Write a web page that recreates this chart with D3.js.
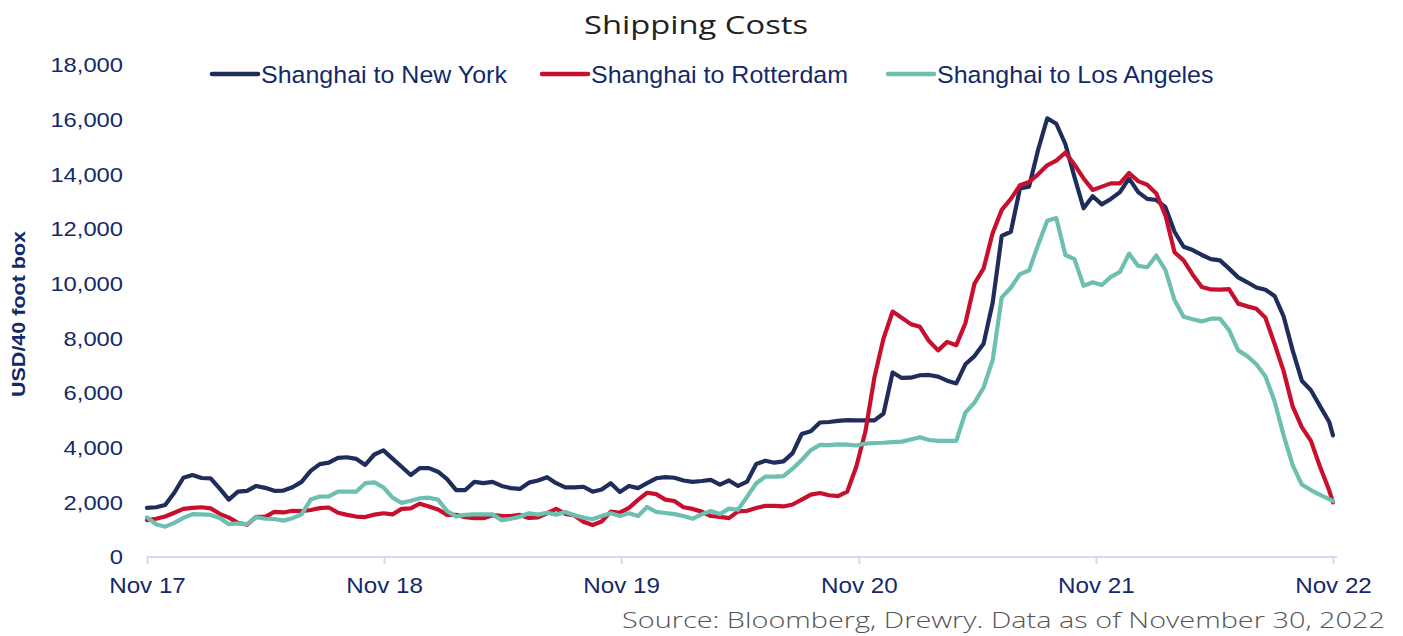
<!DOCTYPE html>
<html>
<head>
<meta charset="utf-8">
<script src="https://cdn.jsdelivr.net/npm/d3@7"></script>
<style>
  html, body { margin: 0; padding: 0; background: #ffffff; }
  svg { display: block; }
</style>
</head>
<body>
<svg id="chart" width="1403" height="636"></svg>
<script>
// ---- data (biweekly readings, USD per 40ft box) ----
const seriesNames = ["Shanghai to New York", "Shanghai to Rotterdam", "Shanghai to Los Angeles"];
const seriesColors = ["#1f2d5c", "#c8102e", "#6dbfb0"];
const yTickValues = [0, 2000, 4000, 6000, 8000, 10000, 12000, 14000, 16000, 18000];
const xTickLabels = ["Nov 17", "Nov 18", "Nov 19", "Nov 20", "Nov 21", "Nov 22"];

const newYork = [
  1800,1820,1900,2350,2900,3000,2890,2880,2500,2100,
  2390,2420,2600,2530,2420,2430,2550,2750,3150,3400,
  3450,3630,3650,3590,3370,3750,3900,3600,3300,3000,
  3250,3250,3120,2850,2450,2450,2750,2700,2750,2600,
  2520,2490,2720,2800,2920,2700,2550,2550,2570,2390,
  2470,2700,2380,2600,2520,2700,2880,2920,2900,2800,
  2750,2780,2820,2650,2800,2600,2760,3400,3520,3450,
  3500,3800,4500,4600,4920,4940,4980,5010,5000,5000,
  5000,5250,6750,6550,6560,6650,6660,6600,6450,6350,
  7050,7350,7800,9300,11750,11900,13480,13550,14900,16050,
  15850,15100,13900,12760,13200,12900,13100,13350,13850,13350,
  13100,13060,12800,11900,11350,11230,11050,10900,10850,10550,
  10230,10050,9860,9780,9550,8800,7550,6450,6100,5520,
  4950,4450
];
const rotterdam = [
  1350,1400,1480,1620,1760,1800,1820,1780,1580,1440,
  1250,1180,1470,1470,1650,1630,1690,1680,1720,1790,
  1810,1620,1540,1480,1460,1550,1600,1560,1760,1780,
  1950,1850,1740,1540,1540,1460,1420,1420,1530,1510,
  1500,1540,1430,1450,1600,1760,1580,1520,1290,1170,
  1300,1660,1620,1800,2090,2350,2300,2100,2050,1820,
  1760,1660,1500,1470,1420,1670,1690,1790,1870,1870,
  1850,1920,2100,2280,2340,2260,2230,2390,3300,4580,
  6580,8000,8980,8750,8520,8420,7900,7560,7870,7750,
  8550,10000,10550,11850,12700,13100,13600,13720,14000,14330,
  14500,14800,14350,13850,13430,13550,13670,13670,14050,13750,
  13620,13300,12500,11150,10850,10330,9880,9790,9780,9800,
  9270,9170,9080,8750,7800,6800,5500,4750,4250,3300,
  2450,2000
];
const losAngeles = [
  1450,1200,1110,1250,1430,1570,1560,1540,1430,1200,
  1230,1200,1460,1400,1390,1330,1420,1560,2100,2210,
  2220,2390,2390,2390,2700,2730,2550,2170,1980,2060,
  2150,2170,2100,1680,1480,1540,1560,1560,1560,1350,
  1400,1470,1600,1550,1620,1550,1650,1530,1440,1380,
  1500,1600,1500,1600,1500,1830,1650,1610,1570,1500,
  1400,1560,1680,1570,1770,1730,2210,2700,2940,2940,
  2960,3230,3550,3910,4100,4090,4120,4110,4080,4150,
  4170,4180,4200,4220,4300,4380,4280,4250,4250,4250,
  5280,5650,6200,7200,9500,9850,10350,10480,11420,12300,
  12400,11050,10900,9920,10050,9950,10250,10430,11100,10650,
  10600,11030,10500,9400,8790,8700,8620,8720,8720,8300,
  7560,7350,7050,6600,5700,4450,3350,2650,2450,2270,
  2120,2050
];

// dates: every 14 days from 30 Nov 2017, final reading on 30 Nov 2022
const startDate = new Date(2017, 10, 30);
const endDate = new Date(2022, 10, 30);
const dates = newYork.map((_, i) => i === newYork.length - 1 ? endDate : d3.timeDay.offset(startDate, 14 * i));
const tickDates = xTickLabels.map((_, i) => new Date(2017 + i, 10, 30));

const series = [newYork, rotterdam, losAngeles];

// ---- chart ----
const svg = d3.select("#chart");
const navyText = "#13296b";
const armFont = "'Liberation Sans', Arial, sans-serif";

// the reference text is slightly widened horizontally
function widen(sel, f) {
  sel.each(function () {
    const w = this.getComputedTextLength();
    d3.select(this).attr("textLength", w * f).attr("lengthAdjust", "spacingAndGlyphs");
  });
}

const x = d3.scaleTime().domain([startDate, endDate]).range([147, 1333]);
const y = d3.scaleLinear().domain([0, 18000]).range([557, 65]);

// title
svg.append("text")
  .attr("x", 696).attr("y", 34)
  .attr("text-anchor", "middle")
  .attr("font-family", "'Open Sans', 'Noto Sans', sans-serif")
  .attr("font-size", 25)
  .attr("fill", "#222")
  .attr("textLength", 224).attr("lengthAdjust", "spacingAndGlyphs")
  .text("Shipping Costs");

// y axis
const yAxis = svg.append("g")
  .attr("transform", "translate(131,0)")
  .call(d3.axisLeft(y).tickValues(yTickValues).tickSize(0).tickPadding(8).tickFormat(d3.format(",")));
yAxis.select(".domain").remove();
yAxis.selectAll("text")
  .attr("font-family", armFont)
  .attr("font-size", 21)
  .attr("fill", navyText)
  .call(widen, 1.13);

// y axis title
svg.append("text")
  .attr("transform", "translate(25,314) rotate(-90)")
  .attr("text-anchor", "middle")
  .attr("font-family", armFont)
  .attr("font-size", 18)
  .attr("font-weight", "bold")
  .attr("fill", navyText)
  .attr("textLength", 166).attr("lengthAdjust", "spacingAndGlyphs")
  .text("USD/40 foot box");

// x axis
const xAxis = svg.append("g")
  .attr("transform", "translate(0,557)")
  .call(d3.axisBottom(x).tickValues(tickDates).tickSize(7).tickPadding(13)
    .tickFormat((d, i) => xTickLabels[i]));
xAxis.select(".domain").attr("stroke", "#d3dcee").attr("stroke-width", 2).attr("d", "M147,0H1337");
xAxis.selectAll(".tick line").attr("stroke", "#d3dcee").attr("stroke-width", 2);
xAxis.selectAll("text")
  .attr("font-family", armFont)
  .attr("font-size", 22)
  .attr("fill", navyText)
  .call(widen, 1.1);

// lines
const line = d3.line()
  .x((d, i) => x(dates[i]))
  .y(d => y(d));

svg.append("g").selectAll("path")
  .data(series)
  .join("path")
  .attr("d", d => line(d))
  .attr("fill", "none")
  .attr("stroke", (d, i) => seriesColors[i])
  .attr("stroke-width", 4.2)
  .attr("stroke-linejoin", "round")
  .attr("stroke-linecap", "round");

// legend
const legendX = [212, 542, 888];
const legend = svg.append("g");
seriesNames.forEach((name, i) => {
  legend.append("line")
    .attr("x1", legendX[i]).attr("x2", legendX[i] + 46)
    .attr("y1", 74).attr("y2", 74)
    .attr("stroke", seriesColors[i])
    .attr("stroke-width", 4.5)
    .attr("stroke-linecap", "round");
  legend.append("text")
    .attr("x", legendX[i] + 49).attr("y", 83)
    .attr("font-family", armFont)
    .attr("font-size", 24.5)
    .attr("fill", navyText)
    .text(name)
    .call(widen, 1.02);
});

// source
svg.append("text")
  .attr("x", 1385).attr("y", 628)
  .attr("text-anchor", "end")
  .attr("font-family", "'Open Sans', 'Noto Sans', sans-serif")
  .attr("font-weight", 300)
  .attr("font-size", 22)
  .attr("fill", "#555")
  .attr("textLength", 763).attr("lengthAdjust", "spacingAndGlyphs")
  .text("Source: Bloomberg, Drewry. Data as of November 30, 2022");
</script>
</body>
</html>
